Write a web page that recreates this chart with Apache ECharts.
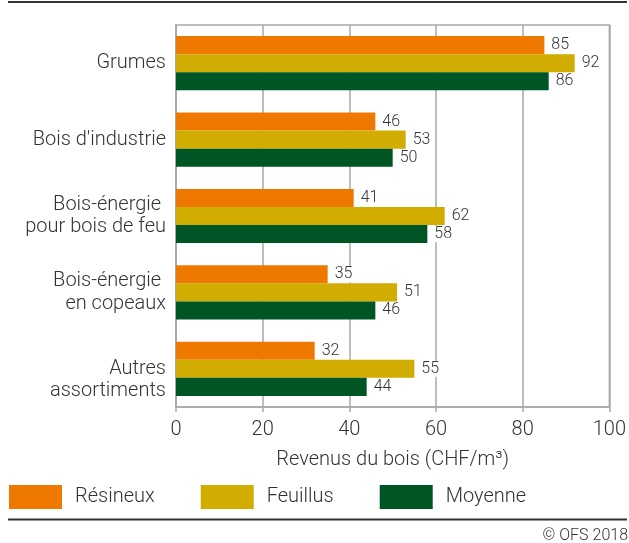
<!DOCTYPE html>
<html>
<head>
<meta charset="utf-8">
<script src="https://cdn.jsdelivr.net/npm/echarts@6/dist/echarts.min.js"></script>
<style>
	html, body { margin: 0; padding: 0; background: #fff; }
	#chart { width: 629px; height: 543px; }
</style>
</head>
<body>
<div id="chart"></div>
<script>
	const categories = ["Grumes", "Bois d'industrie", "Bois-énergie \npour bois de feu", "Bois-énergie \nen copeaux", "Autres\nassortiments"]
	const resineux = [85, 46, 41, 35, 32]
	const feuillus = [92, 53, 62, 51, 55]
	const moyenne = [86, 50, 58, 46, 44]
	const xTicks = [0, 20, 40, 60, 80, 100]

	const font = "Roboto"
	const textColor = "#333"
	const gridColor = "#a9a9a9"

	const chartInstance = echarts.init(document.getElementById("chart"))

	const barLabel = {
		show: true,
		position: "right",
		distance: 6,
		fontFamily: font,
		fontWeight: 300,
		fontSize: 16,
		color: textColor,
		backgroundColor: "#fff",
		padding: [0, 1],
	}

	const makeSeries = (name, data, color) => ({
		name: name,
		type: "bar",
		data: data,
		barGap: "0%",
		barCategoryGap: "29%",
		itemStyle: { color: color },
		label: barLabel,
		animation: false,
	})

	let options = {
		animation: false,
		textStyle: { fontFamily: font },
		grid: {
			show: true,
			left: 176,
			right: 16,
			top: 25,
			bottom: 136,
			borderColor: gridColor,
			borderWidth: 1.5,
		},
		legend: {
			left: 9,
			top: 485,
			padding: 0,
			itemWidth: 53,
			itemHeight: 24,
			itemGap: 46,
			icon: "rect",
			selectedMode: false,
			textStyle: {
				fontFamily: font,
				fontWeight: 300,
				fontSize: 20,
				color: textColor,
				padding: [0, 0, 0, 8],
			},
			data: ["Résineux", "Feuillus", "Moyenne"],
		},
		xAxis: {
			type: "value",
			min: xTicks[0],
			max: xTicks[xTicks.length - 1],
			interval: 20,
			name: "Revenus du bois (CHF/m³)",
			nameLocation: "middle",
			nameGap: 43,
			nameTextStyle: { fontFamily: font, fontWeight: 300, fontSize: 20, color: textColor },
			axisLine: { show: true, lineStyle: { color: gridColor, width: 1.5 } },
			axisTick: { show: true, length: 5, lineStyle: { color: gridColor, width: 1.5 } },
			axisLabel: { margin: 13, fontFamily: font, fontWeight: 300, fontSize: 20, color: textColor },
			splitLine: { show: true, lineStyle: { color: gridColor, width: 1.5 } },
		},
		yAxis: {
			type: "category",
			inverse: true,
			data: categories,
			axisLine: { show: true, lineStyle: { color: gridColor, width: 1.5 } },
			axisTick: { show: false },
			axisLabel: {
				margin: 10,
				fontFamily: font,
				fontWeight: 300,
				fontSize: 20,
				lineHeight: 22.5,
				color: textColor,
				align: "right",
				// last label sits half a line lower in the original
				formatter: (v, i) => (i === categories.length - 1 ? "\n" + v : v),
			},
		},
		graphic: [
			{
				type: "line",
				shape: { x1: 8, y1: 2, x2: 627, y2: 2 },
				style: { stroke: "#333", lineWidth: 2 },
			},
			{
				type: "line",
				shape: { x1: 8, y1: 519.5, x2: 627, y2: 519.5 },
				style: { stroke: "#333", lineWidth: 2 },
			},
			{
				type: "text",
				right: 1,
				top: 528,
				style: { text: "© OFS 2018", fontFamily: font, fontWeight: 300, fontSize: 16, fill: textColor },
			},
		],
		series: [
			makeSeries("Résineux", resineux, "#ef7800"),
			makeSeries("Feuillus", feuillus, "#d0ad00"),
			makeSeries("Moyenne", moyenne, "#005524"),
		],
	}

	chartInstance.setOption(options)
</script>
</body>
</html>
